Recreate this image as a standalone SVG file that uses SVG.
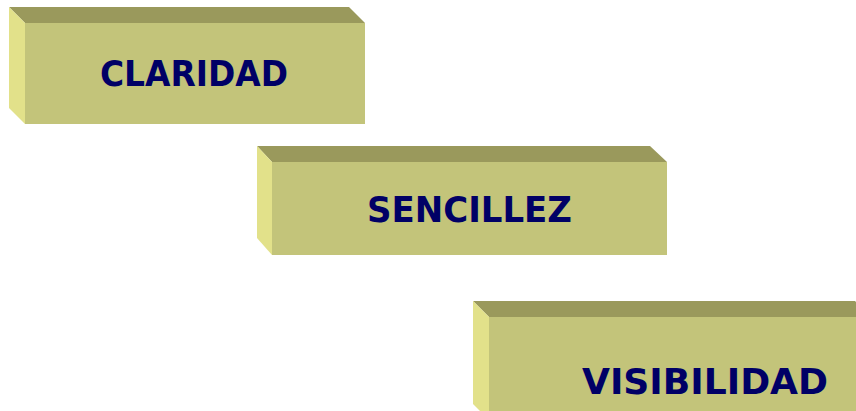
<svg xmlns="http://www.w3.org/2000/svg" width="856" height="411" viewBox="0 0 856 411">
  <style>
    .front { fill: #C3C47A; }
    .top { fill: #9A995C; }
    .side { fill: #E2E18A; }
    .label { font-family: "DejaVu Sans", "Liberation Sans", sans-serif; font-weight: bold; font-size: 36px; fill: #000066; }
  </style>
  <rect width="856" height="411" fill="#FFFFFF"/>
  <g id="claridad">
    <polygon class="top" points="9,7 349,7 365,23 25,23"/>
    <polygon class="side" points="9,7 25,23 25,124 9,108"/>
    <rect class="front" x="25" y="23" width="340" height="101"/>
    <text class="label" x="100" y="86" textLength="188" lengthAdjust="spacingAndGlyphs">CLARIDAD</text>
  </g>
  <g id="sencillez">
    <polygon class="top" points="257,146 650,146 667,162 272,162"/>
    <polygon class="side" points="257,146 272,162 272,255 257,238"/>
    <rect class="front" x="272" y="162" width="395" height="93"/>
    <text class="label" x="367" y="222" textLength="205" lengthAdjust="spacingAndGlyphs">SENCILLEZ</text>
  </g>
  <g id="visibilidad">
    <polygon class="top" points="473,301 855,301 871,317 489,317"/>
    <polygon class="side" points="473,301 489,317 489,420 473,404"/>
    <rect class="front" x="489" y="317" width="380" height="100"/>
    <text class="label" x="582" y="394" textLength="246" lengthAdjust="spacingAndGlyphs">VISIBILIDAD</text>
  </g>
  <g id="connectors"/>
</svg>
